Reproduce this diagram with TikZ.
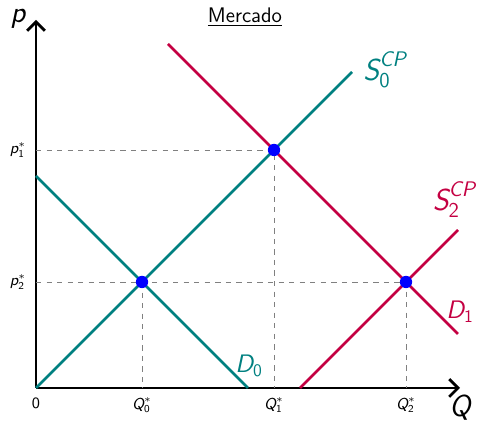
\documentclass[tikz,border=0pt]{standalone}
\usepackage{amsmath}
\usetikzlibrary{arrows.meta}
\renewcommand{\familydefault}{\sfdefault}
\definecolor{tealS}{RGB}{0,128,128}
\definecolor{crimD}{RGB}{196,0,66}
\newcommand{\vv}[1]{\textit{#1}}
\newcommand{\nn}[1]{\textup{#1}}
\tikzset{
  curve/.style={line width=1.6pt},
  guide/.style={dashed,gray,line width=0.4pt},
  eqdot/.style={fill=blue,inner sep=0pt,minimum size=7pt,circle}
}

\begin{document}
\begin{tikzpicture}[x=0.2cm,y=0.2cm,font=\sffamily]
  \useasboundingbox (-3.6,-3.4) rectangle (44.2,38.8);
  % axes
  \draw[line width=1.6pt,-{Straight Barb[length=5pt,width=10pt]}] (0,0)--(0,36.8);
  \draw[line width=1.6pt,-{Straight Barb[length=5pt,width=10pt]}] (0,0)--(42.4,0);
  \node at (-1.8,36.9) {\LARGE$\vv{p}$}; \node at (42.4,-2.0) {\LARGE$\vv{Q}$};
  \node at (0,-1.5) {\small 0};
  \node at (20.9,37.1) {\large\underline{Mercado}};
  % equilibria
  \coordinate (E0) at (10.6,10.6); \coordinate (E1) at (23.8,23.8); \coordinate (E2) at (37,10.6);
  \draw[guide] (0,23.8)--(E1)--(23.8,0);
  \draw[guide] (0,10.6)--(E2)--(37,0);
  \draw[guide] (E0)--(10.6,0);
  % curves
  \draw[curve,tealS] (0,0)--(31.6,31.6);
  \draw[curve,tealS] (0,21.2)--(21.2,0);
  \draw[curve,crimD] (13.2,34.4)--(42.2,5.4);
  \draw[curve,crimD] (26.4,0)--(42.2,15.8);
  \node[tealS] at (34.9,31.8) {\LARGE$\vv{S}_{\nn{0}}^{\vv{CP}}$};
  \node[crimD,anchor=east,inner sep=1pt] at (44.2,18.8) {\LARGE$\vv{S}_{\nn{2}}^{\vv{CP}}$};
  \node[crimD] at (42.4,7.6) {\Large$\vv{D}_{\nn{1}}$};
  \node[tealS] at (21.3,2.2) {\Large$\vv{D}_{\nn{0}}$};
  \node[eqdot] at (E0) {}; \node[eqdot] at (E1) {}; \node[eqdot] at (E2) {};
  % ticks
  \node at (-1.8,23.8) {\small$\vv{p}_{\nn{1}}^*$}; \node at (-1.8,10.6) {\small$\vv{p}_{\nn{2}}^*$};
  \node at (10.6,-1.7) {\small$\vv{Q}_{\nn{0}}^*$}; \node at (23.8,-1.7) {\small$\vv{Q}_{\nn{1}}^*$};
  \node at (37,-1.7) {\small$\vv{Q}_{\nn{2}}^*$};
\end{tikzpicture}
\end{document}
